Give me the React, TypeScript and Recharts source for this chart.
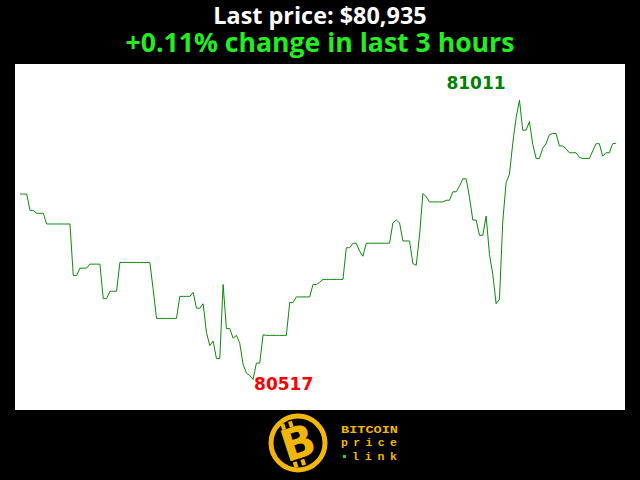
import { LineChart, Line, XAxis, YAxis } from "recharts";

// one sample per minute over the last 3 hours
const prices = [
  80845, 80845, 80845, 80816, 80816, 80811, 80811, 80811, 80792, 80792,
  80792, 80792, 80792, 80792, 80792, 80792, 80701, 80701, 80714, 80714,
  80714, 80721, 80721, 80721, 80721, 80660, 80660, 80673, 80673, 80673,
  80724, 80724, 80724, 80724, 80724, 80724, 80724, 80724, 80724, 80724,
  80676, 80625, 80625, 80625, 80625, 80625, 80625, 80625, 80664, 80664,
  80664, 80664, 80671, 80643, 80643, 80651, 80600, 80577, 80585, 80554,
  80554, 80685, 80607, 80607, 80590, 80595, 80581, 80544, 80528, 80524,
  80517, 80546, 80546, 80596, 80595, 80595, 80595, 80595, 80595, 80595,
  80595, 80653, 80653, 80663, 80663, 80663, 80663, 80663, 80685, 80685,
  80689, 80694, 80694, 80694, 80694, 80694, 80694, 80694, 80750, 80750,
  80758, 80758, 80744, 80735, 80758, 80758, 80758, 80758, 80758, 80758,
  80758, 80758, 80794, 80799, 80794, 80762, 80762, 80762, 80722, 80719,
  80772, 80846, 80840, 80831, 80831, 80831, 80831, 80831, 80834, 80834,
  80849, 80849, 80859, 80872, 80872, 80839, 80799, 80799, 80772, 80772,
  80806, 80738, 80703, 80651, 80659, 80797, 80865, 80880, 80935, 80980,
  81011, 80958, 80958, 80973, 80933, 80908, 80908, 80926, 80934, 80950,
  80952, 80952, 80930, 80930, 80925, 80918, 80918, 80918, 80910, 80908,
  80908, 80908, 80921, 80934, 80934, 80912, 80918, 80918, 80934, 80935,
];

const priceDomain = [80463, 81075];
const headline = "Last price: $80,935";
const changeText = "+0.11% change in last 3 hours";
const logoLines = ["BITCOIN", "price", "link"];

const data = prices.map((price, minute) => ({ minute, price }));
const maxIndex = prices.indexOf(Math.max(...prices));
const minIndex = prices.indexOf(Math.min(...prices));

const labelFont = {
  fontFamily: "DejaVu Sans",
  fontWeight: "bold" as const,
  fontSize: 17,
};

const renderExtreme = (props: any) => {
  const { x, y, index } = props;
  if (index === maxIndex) {
    return (
      <text key="max" x={x - 73} y={y - 11} fill="#008000" {...labelFont}>
        {prices[index]}
      </text>
    );
  }
  if (index === minIndex) {
    return (
      <text key="min" x={x + 1} y={y + 11} fill="#ff0000" {...labelFont}>
        {prices[index]}
      </text>
    );
  }
  return <g key={`l${index}`} />;
};

function Logo() {
  const gold = "#f2b705";
  return (
    <svg
      width={640}
      height={70}
      style={{ position: "absolute", left: 0, top: 410 }}
    >
      <circle cx={298} cy={33} r={27} fill="#000" stroke={gold} strokeWidth={5} />
      <g transform="rotate(-18 298 33)">
        <text
          x={298}
          y={48}
          textAnchor="middle"
          fill={gold}
          fontFamily="DejaVu Sans"
          fontWeight="bold"
          fontSize={44}
        >
          B
        </text>
        <rect x={287} y={10} width={4} height={6} fill={gold} />
        <rect x={295} y={10} width={4} height={6} fill={gold} />
        <rect x={287} y={50} width={4} height={6} fill={gold} />
        <rect x={295} y={50} width={4} height={6} fill={gold} />
      </g>
      <g fill={gold} fontFamily="Liberation Mono" fontWeight="bold" fontSize={11.5}>
        <text x={341} y={23} textLength={57} lengthAdjust="spacingAndGlyphs">
          {logoLines[0]}
        </text>
        <text x={341} y={36} textLength={56} lengthAdjust="spacing">
          {logoLines[1]}
        </text>
        <text x={352} y={50} textLength={45} lengthAdjust="spacing">
          {logoLines[2]}
        </text>
      </g>
      <rect x={343} y={45} width={3} height={3} fill="#3c3" />
    </svg>
  );
}

export default function App() {
  return (
    <div
      style={{
        position: "absolute",
        left: 0,
        top: 0,
        width: 640,
        height: 480,
        background: "#000",
        overflow: "hidden",
      }}
    >
      <svg width={640} height={64} style={{ position: "absolute", left: 0, top: 0 }}>
        <text
          x={320}
          y={24}
          textAnchor="middle"
          fill="#fff"
          fontFamily="Open Sans"
          fontWeight="bold"
          fontSize={23.4}
        >
          {headline}
        </text>
        <text
          x={320}
          y={52}
          textAnchor="middle"
          fill="#22ee22"
          fontFamily="Open Sans"
          fontWeight="bold"
          fontSize={26.6}
        >
          {changeText}
        </text>
      </svg>
      <div
        style={{
          position: "absolute",
          left: 15,
          top: 64,
          width: 610,
          height: 346,
          background: "#fff",
        }}
      >
        <LineChart
          width={610}
          height={346}
          data={data}
          margin={{ top: 0, right: 9, bottom: 0, left: 5 }}
        >
          <XAxis dataKey="minute" type="number" domain={[0, prices.length - 1]} hide />
          <YAxis type="number" domain={priceDomain} allowDataOverflow hide />
          <Line
            type="linear"
            dataKey="price"
            stroke="#0a8a0a"
            strokeWidth={1}
            dot={false}
            isAnimationActive={false}
            label={renderExtreme}
          />
        </LineChart>
      </div>
      <Logo />
    </div>
  );
}
